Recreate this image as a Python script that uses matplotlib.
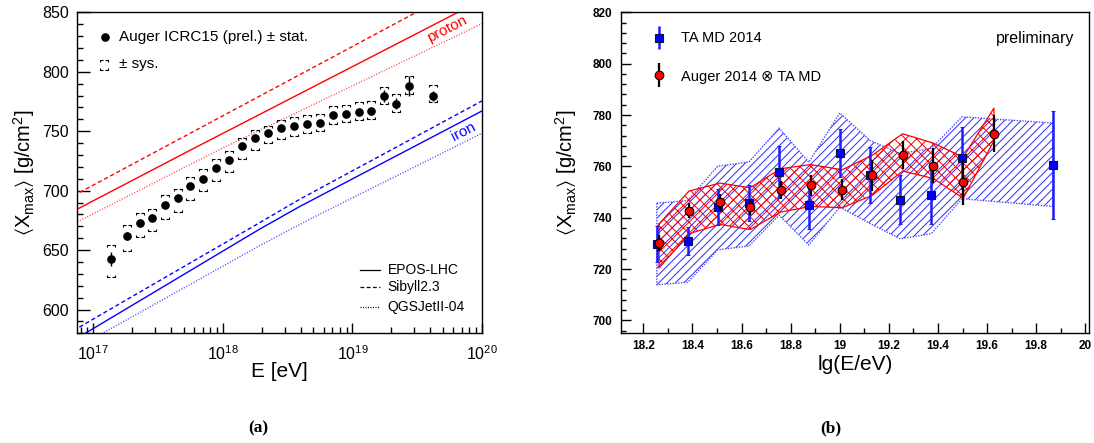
import math
import matplotlib
matplotlib.use('Agg')
import matplotlib.pyplot as plt
from matplotlib.path import Path
from matplotlib.ticker import MultipleLocator, FixedLocator, FuncFormatter, NullFormatter

plt.rcParams['font.family'] = ['Liberation Sans', 'DejaVu Sans']
plt.rcParams['mathtext.fontset'] = 'custom'
plt.rcParams['mathtext.rm'] = 'Liberation Sans'
plt.rcParams['mathtext.it'] = 'Liberation Sans:italic'
plt.rcParams['mathtext.bf'] = 'Liberation Sans:bold'
plt.rcParams['mathtext.fallback'] = 'stixsans'
plt.rcParams['hatch.linewidth'] = 0.7

# ---------------- (a) Auger ICRC15 <Xmax> vs energy ----------------
auger_lgE = [17.14, 17.26, 17.36, 17.45, 17.55, 17.65, 17.75, 17.85, 17.95, 18.05,
             18.15, 18.25, 18.35, 18.45, 18.55, 18.65, 18.75, 18.85, 18.95, 19.05,
             19.14, 19.24, 19.34, 19.44, 19.62]
auger_xmax = [642.5, 662.0, 672.7, 677.0, 688.0, 693.6, 704.0, 710.0, 719.0, 726.0,
              737.5, 744.5, 748.3, 752.3, 754.5, 756.2, 757.3, 763.7, 764.6, 766.5,
              767.0, 779.3, 773.2, 788.0, 779.6]
auger_stat = [6.0, 3.5, 3.0, 2.5, 2.5, 2.0, 2.0, 2.0, 2.0, 2.0,
              2.0, 2.0, 2.0, 2.0, 2.0, 2.0, 2.0, 2.0, 2.5, 3.0,
              3.0, 5.0, 4.5, 8.5, 4.5]
auger_sys_up = [11.7, 9.2, 8.4, 7.8, 8.0, 7.5, 7.8, 8.4, 7.3, 7.3,
                7.0, 6.4, 6.4, 7.0, 7.5, 7.3, 7.5, 7.3, 7.5, 7.8,
                8.1, 7.8, 8.1, 8.4, 9.2]
auger_sys_lo = [14.8, 12.6, 11.7, 10.9, 11.7, 11.5, 11.7, 10.6, 10.9, 10.3,
                10.6, 10.6, 8.6, 8.6, 8.6, 7.5, 7.5, 7.8, 7.0, 6.7,
                6.4, 6.7, 6.7, 6.7, 5.3]

# hadronic-model predictions (lg E, <Xmax>)
p_epos_lgE = [16.8, 17.76, 19.814, 20.1]
p_epos_x = [680.1, 734.7, 850.0, 866.0]
p_sib_lgE = [16.8, 19.493, 20.1]
p_sib_x = [693.0, 850.0, 885.3]
p_qgs_lgE = [16.8, 17.977, 19.98, 20.1]
p_qgs_x = [669.5, 734.7, 839.4, 845.6]
fe_epos_lgE = [16.8, 18.285, 18.594, 19.98, 20.1]
fe_epos_x = [571.0, 667.7, 686.7, 765.9, 772.8]
fe_sib_lgE = [16.8, 18.285, 18.594, 19.98, 20.1]
fe_sib_x = [579.4, 673.1, 692.8, 774.3, 781.3]
fe_qgs_lgE = [16.8, 18.285, 18.671, 19.98, 20.1]
fe_qgs_x = [563.5, 653.8, 676.0, 747.2, 753.7]

model_names = ['EPOS-LHC', 'Sibyll2.3', 'QGSJetII-04']

# ---------------- (b) TA MD vs Auger folded with TA MD ----------------
ta_lgE = [18.255, 18.381, 18.503, 18.630, 18.753, 18.874, 19.000, 19.125,
          19.247, 19.373, 19.498, 19.868]
ta_xmax = [729.6, 731.0, 744.1, 745.7, 757.8, 744.8, 765.2, 756.6,
           747.1, 748.7, 763.2, 760.4]
ta_stat = [7.0, 5.5, 7.0, 7.0, 10.0, 9.2, 9.2, 11.0, 9.6, 11.0, 12.0, 21.0]
ta_sys_hi = [745.7, 746.7, 760.1, 761.7, 774.9, 761.6, 780.8, 770.0,
             765.0, 767.0, 779.3, 776.9]
ta_sys_lo = [713.9, 714.9, 727.5, 729.0, 741.0, 729.4, 744.1, 737.7,
             731.8, 733.8, 747.4, 744.4]

af_lgE = [18.264, 18.386, 18.512, 18.635, 18.759, 18.882, 19.010, 19.132,
          19.256, 19.380, 19.503, 19.628]
af_xmax = [730.2, 742.8, 746.2, 744.1, 750.8, 752.6, 751.0, 756.5,
           764.3, 760.3, 754.0, 772.8]
af_stat = [3.0, 3.0, 3.0, 3.0, 3.5, 4.0, 4.0, 6.0, 5.5, 6.8, 9.0, 7.2]
af_sys_hi = [737.6, 750.4, 753.5, 751.7, 759.1, 760.7, 758.7, 764.3,
             772.7, 769.1, 763.6, 782.7]
af_sys_lo = [720.4, 733.8, 737.4, 735.4, 742.2, 744.4, 743.9, 748.7,
             758.2, 755.3, 747.6, 770.0]

RED = '#ff0000'
BLUE = '#0000ff'
YLABEL = r'$\langle\mathrm{X}_{\mathrm{max}}\rangle$ [g/cm$^{2}$]'

fig = plt.figure(figsize=(10.94, 4.43), dpi=100)
axA = fig.add_axes([0.0707, 0.2476, 0.3699, 0.7246])
axB = fig.add_axes([0.5674, 0.2476, 0.4280, 0.7246])

# ---------- panel (a) ----------
E = lambda lg: [10.0 ** v for v in lg]
ls_solid = '-'
ls_dash = (0, (3.0, 2.0))
ls_dot = (0, (0.8, 1.2))
for lg, xm, col, ls in [
        (p_epos_lgE, p_epos_x, RED, ls_solid),
        (p_sib_lgE, p_sib_x, RED, ls_dash),
        (p_qgs_lgE, p_qgs_x, '#ff5050', ls_dot),
        (fe_epos_lgE, fe_epos_x, BLUE, ls_solid),
        (fe_sib_lgE, fe_sib_x, BLUE, ls_dash),
        (fe_qgs_lgE, fe_qgs_x, '#5050ff', ls_dot)]:
    axA.plot(E(lg), xm, color=col, linestyle=ls, lw=1.0, zorder=2)

# systematic brackets drawn as open corner markers
br_codes = [Path.MOVETO, Path.LINETO, Path.LINETO, Path.MOVETO, Path.LINETO, Path.LINETO]
br_top = Path([(-1, -0.55), (-1, 0), (-0.3, 0), (0.3, 0), (1, 0), (1, -0.55)], br_codes)
br_bot = Path([(-1, 0.55), (-1, 0), (-0.3, 0), (0.3, 0), (1, 0), (1, 0.55)], br_codes)
sys_hi = [x + u for x, u in zip(auger_xmax, auger_sys_up)]
sys_lo = [x - d for x, d in zip(auger_xmax, auger_sys_lo)]
br_style = dict(linestyle='none', ms=5.2, mfc='none', mec='black', mew=0.8, zorder=3)
axA.plot(E(auger_lgE), sys_hi, marker=br_top, **br_style)
axA.plot(E(auger_lgE), sys_lo, marker=br_bot, **br_style)
axA.errorbar(E(auger_lgE), auger_xmax, yerr=auger_stat, fmt='o', color='black',
             ms=5.2, elinewidth=1.0, capsize=0, zorder=4)

axA.set_xscale('log')
axA.set_xlim(10 ** 16.877, 1e20)
axA.set_ylim(580, 850)
axA.yaxis.set_major_locator(MultipleLocator(50))
axA.yaxis.set_minor_locator(MultipleLocator(10))
axA.xaxis.set_major_locator(FixedLocator([1e17, 1e18, 1e19, 1e20]))
minors = [m * 10.0 ** d for d in range(16, 20) for m in range(2, 10)]
axA.xaxis.set_minor_locator(FixedLocator(minors))
axA.xaxis.set_minor_formatter(NullFormatter())
axA.xaxis.set_major_formatter(FuncFormatter(lambda v, p: r'$10^{%d}$' % round(math.log10(v))))
axA.tick_params(which='both', direction='in', top=False, right=False, labelsize=11.5, width=1.0)
axA.tick_params(axis='y', which='major', length=9, pad=6)
axA.tick_params(axis='y', which='minor', length=4.5)
axA.tick_params(axis='x', which='major', length=7.5, pad=8)
axA.tick_params(axis='x', which='minor', length=4)
for s in axA.spines.values():
    s.set_linewidth(1.0)
axA.set_xlabel('E [eV]', fontsize=15, labelpad=-1)
axA.set_ylabel(YLABEL, fontsize=14.5, labelpad=4)

# legends of panel (a)
axA.plot([0.0684], [0.924], 'o', color='black', ms=5.2, transform=axA.transAxes)
axA.text(0.103, 0.924, 'Auger ICRC15 (prel.) ± stat.', transform=axA.transAxes,
         fontsize=11, va='center', ha='left')
leg_br = dict(br_style)
leg_br.pop('zorder')
axA.plot([0.066], [0.852], marker=br_top, transform=axA.transAxes, **leg_br)
axA.plot([0.066], [0.820], marker=br_bot, transform=axA.transAxes, **leg_br)
axA.text(0.103, 0.838, '± sys.', transform=axA.transAxes, fontsize=11,
         va='center', ha='left')
for yy, nm, ls in zip([0.197, 0.143, 0.083], model_names, [ls_solid, ls_dash, ls_dot]):
    axA.plot([0.699, 0.748], [yy, yy], color='black', linestyle=ls, lw=0.9,
             transform=axA.transAxes)
    axA.text(0.767, yy, nm, transform=axA.transAxes, fontsize=10,
             va='center', ha='left')
axA.text(10 ** 19.73, 836, 'proton', color=RED, fontsize=11, rotation=27,
         ha='center', va='center', rotation_mode='anchor')
axA.text(10 ** 19.86, 750, 'iron', color=BLUE, fontsize=11, rotation=27,
         ha='center', va='center', rotation_mode='anchor')

# ---------- panel (b) ----------
axB.fill_between(ta_lgE, ta_sys_lo, ta_sys_hi, facecolor='none', edgecolor='#2a2aff',
                 hatch='////', linewidth=0, zorder=1)
axB.plot(ta_lgE + ta_lgE[::-1] + ta_lgE[:1], ta_sys_hi + ta_sys_lo[::-1] + ta_sys_hi[:1],
         color='#4a4aff', linestyle=(0, (1, 1)), lw=1.0, zorder=1)
axB.fill_between(af_lgE, af_sys_lo, af_sys_hi, facecolor='none', edgecolor=RED,
                 hatch='xxx', linewidth=0, zorder=2)
axB.plot(af_lgE + af_lgE[::-1] + af_lgE[:1], af_sys_hi + af_sys_lo[::-1] + af_sys_hi[:1],
         color=RED, lw=0.9, zorder=2)
axB.errorbar(ta_lgE, ta_xmax, yerr=ta_stat, fmt='s', mfc=BLUE, mec='#101040', mew=0.8,
             ms=6, ecolor='#1c1cff', elinewidth=1.8, capsize=1.2, capthick=1.2, zorder=4)
axB.errorbar(af_lgE, af_xmax, yerr=af_stat, fmt='o', mfc=RED, mec='black', mew=0.8,
             ms=6.2, ecolor='black', elinewidth=1.6, capsize=0, zorder=5)

axB.set_xlim(18.108, 20.015)
axB.set_ylim(695, 820)
axB.xaxis.set_major_locator(MultipleLocator(0.2))
axB.xaxis.set_minor_locator(MultipleLocator(0.1))
axB.yaxis.set_major_locator(MultipleLocator(20))
axB.yaxis.set_minor_locator(MultipleLocator(4))
axB.xaxis.set_major_formatter(FuncFormatter(lambda v, p: '%g' % round(v, 1)))
axB.tick_params(which='both', direction='in', top=False, right=False, width=1.0)
axB.tick_params(axis='both', which='major', labelsize=8.5, length=7.5)
axB.tick_params(axis='x', which='major', pad=5)
axB.tick_params(axis='y', which='major', pad=6)
axB.tick_params(axis='both', which='minor', length=3.8)
for lab in axB.get_xticklabels() + axB.get_yticklabels():
    lab.set_fontweight('bold')
for s in axB.spines.values():
    s.set_linewidth(1.0)
axB.set_xlabel('lg(E/eV)', fontsize=15, labelpad=2)
axB.set_ylabel(YLABEL, fontsize=14.5, labelpad=10)

# legend of panel (b)
axB.errorbar([0.0818], [0.921], yerr=[0.036], fmt='s', mfc=BLUE, mec='#101040', mew=0.8,
             ms=6, ecolor='#1c1cff', elinewidth=1.8, capsize=0, transform=axB.transAxes)
axB.text(0.129, 0.919, 'TA MD 2014', transform=axB.transAxes, fontsize=10.5,
         va='center', ha='left')
axB.errorbar([0.0818], [0.804], yerr=[0.037], fmt='o', mfc=RED, mec='black', mew=0.8,
             ms=6.2, ecolor='black', elinewidth=1.6, capsize=0, transform=axB.transAxes)
axB.text(0.129, 0.800, 'Auger 2014 ⊗ TA MD', transform=axB.transAxes, fontsize=10.5,
         va='center', ha='left')
axB.text(0.968, 0.919, 'preliminary', transform=axB.transAxes, fontsize=11.5,
         va='center', ha='right')

# sub-figure captions
fig.text(0.236, 0.034, '(a)', fontsize=12.5, fontweight='bold', family='Liberation Serif',
         ha='center', va='center')
fig.text(0.759, 0.034, '(b)', fontsize=12.5, fontweight='bold', family='Liberation Serif',
         ha='center', va='center')

fig.savefig('out.png', dpi=100)
